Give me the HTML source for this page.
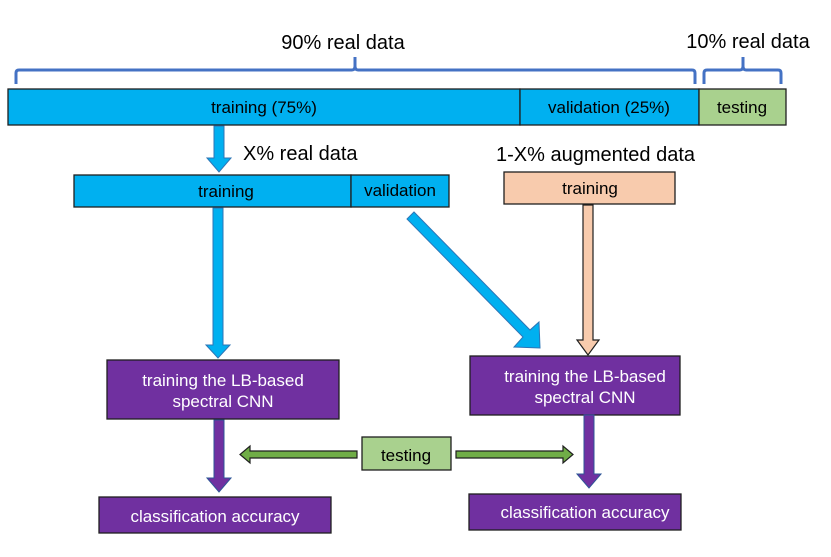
<!DOCTYPE html>
<html><head><style>html,body{margin:0;padding:0;background:#fff}svg{display:block}text{font-family:"Liberation Sans",sans-serif}</style></head>
<body>
<svg width="831" height="557" viewBox="0 0 831 557" xmlns="http://www.w3.org/2000/svg">
<g fill="none" stroke="#4472c4" stroke-width="3">
<path d="M16,84 V73 Q16,70 19,70 H352 Q355,70 355,66 V57 M355,57 V66 Q355,70 358,70 H692 Q695,70 695,73 V84"/>
<path d="M704,84 V73 Q704,70 707,70 H740 Q743,70 743,66 V57 M743,57 V66 Q743,70 746,70 H778 Q781,70 781,73 V84"/>
</g>
<text x="343" y="49" font-size="20" text-anchor="middle" fill="#000">90% real data</text>
<text x="748" y="48" font-size="20" text-anchor="middle" fill="#000">10% real data</text>
<g stroke="#1f1f1f" stroke-width="1.3">
<rect x="8" y="89" width="512" height="36" fill="#00b0f0"/>
<rect x="520" y="89" width="179" height="36" fill="#00b0f0"/>
<rect x="699" y="89" width="87" height="36" fill="#a9d18e"/>
<rect x="74" y="175" width="277" height="32" fill="#00b0f0"/>
<rect x="351" y="175" width="98" height="32" fill="#00b0f0"/>
<rect x="504" y="172" width="171" height="32" fill="#f8cbad"/>
<rect x="107" y="360" width="232" height="59" fill="#7030a0"/>
<rect x="470" y="356" width="210" height="59" fill="#7030a0"/>
<rect x="362" y="437" width="89" height="33" fill="#a9d18e"/>
<rect x="99" y="497" width="232" height="36" fill="#7030a0"/>
<rect x="469" y="494" width="212" height="36" fill="#7030a0"/>
</g>
<g font-size="17" text-anchor="middle" fill="#000">
<text x="264" y="113">training (75%)</text>
<text x="609" y="113">validation (25%)</text>
<text x="742" y="113">testing</text>
<text x="226" y="197">training</text>
<text x="400" y="196">validation</text>
<text x="590" y="194">training</text>
<text x="406" y="461">testing</text>
</g>
<g font-size="17" text-anchor="middle" fill="#fff">
<text x="223" y="386">training the LB-based</text>
<text x="223" y="407">spectral CNN</text>
<text x="585" y="382">training the LB-based</text>
<text x="585" y="403">spectral CNN</text>
<text x="215" y="522">classification accuracy</text>
<text x="585" y="518">classification accuracy</text>
</g>
<text x="243" y="160" font-size="20" fill="#000">X% real data</text>
<text x="496" y="161" font-size="20" fill="#000">1-X% augmented data</text>
<g stroke="#2e75b6" stroke-width="1" fill="#00b0f0">
<path d="M214,126 H224 V158 H231 L219,172 L207,158 H214 Z"/>
<path d="M213,208 H223 V345 H230 L218,358 L206,345 H213 Z"/>
<path d="M407,219 L414,212 L530,330 L539,322 L540,348 L514,347 L523,337 Z"/>
</g>
<path d="M583,205 H593 V340 H599 L588,355 L577,340 H583 Z" fill="#f8cbad" stroke="#1f1f1f" stroke-width="1.2"/>
<g stroke="#2e5597" stroke-width="1" fill="#7030a0">
<path d="M214,420 H224 V478 H231 L219,492 L207,478 H214 Z"/>
<path d="M584,415 H594 V474 H601 L589,488 L577,474 H584 Z"/>
</g>
<g stroke="#1f1f1f" stroke-width="1.2" fill="#70ad47">
<path d="M357,451 V458 H250 V463 L240,454.5 L250,446 V451 Z"/>
<path d="M456,451 V458 H563 V463 L573,454.5 L563,446 V451 Z"/>
</g>
</svg>
</body></html>
